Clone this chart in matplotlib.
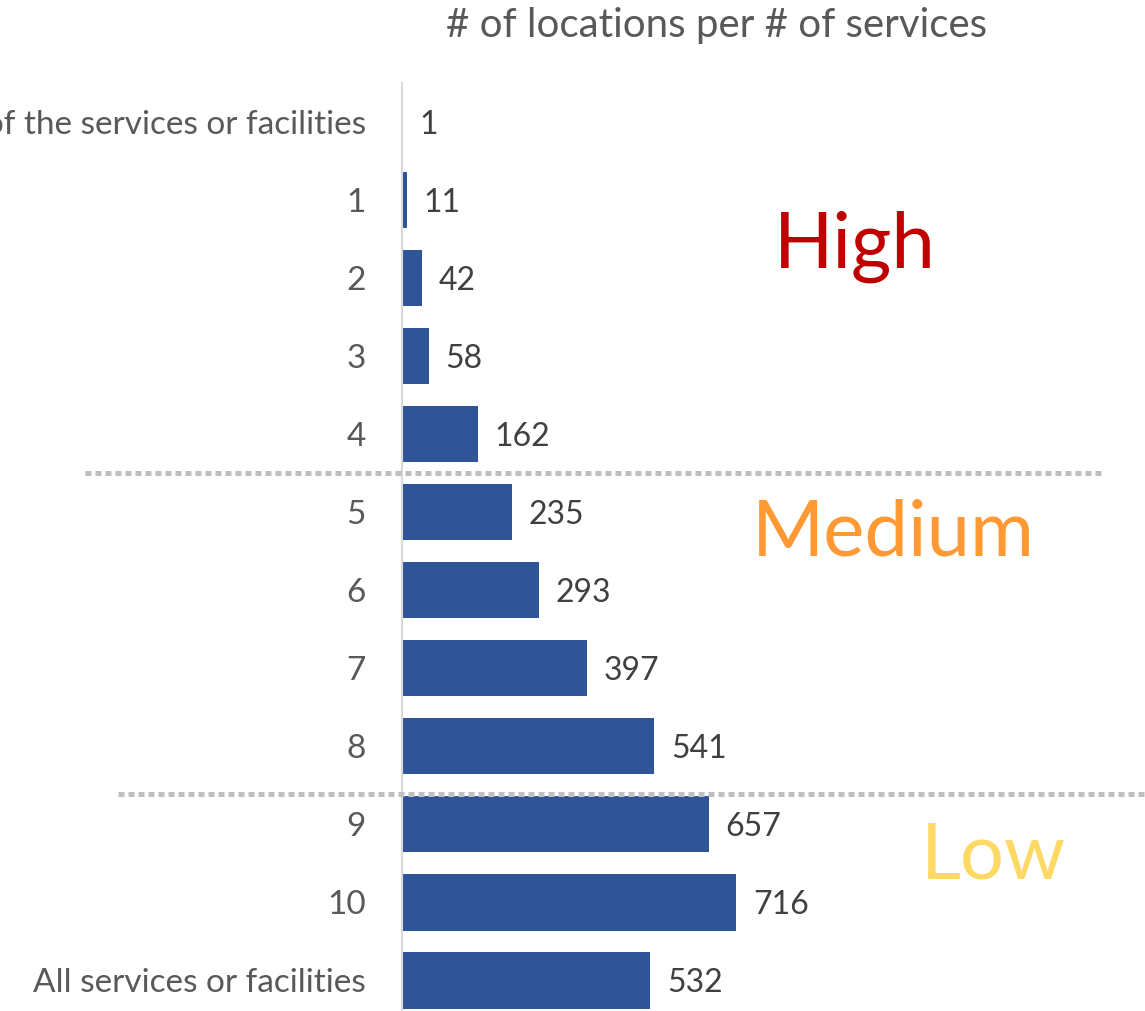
import matplotlib
matplotlib.use("Agg")
import matplotlib.pyplot as plt

categories = ["None of the services or facilities", "1", "2", "3", "4", "5", "6",
              "7", "8", "9", "10", "All services or facilities"]
locations = [1, 11, 42, 58, 162, 235, 293, 397, 541, 657, 716, 532]

title = "# of locations per # of services"
bands = ["High", "Medium", "Low"]
band_colors = ["#C00000", "#FF9933", "#FFD966"]
band_pos = [(971, 1.6), (1052, 5.28), (1267, 9.42)]
separators = [(4.5, -0.453, 1.004), (8.62, -0.406, 1.07)]

fig = plt.figure(figsize=(11.45, 10.11), dpi=100)
ax = fig.add_axes([402 / 1145, 0, 700 / 1145, 928 / 1011])

y = list(range(len(categories)))
ax.barh(y, locations, height=0.73, color="#2F5597", zorder=2)
ax.set_xlim(0, 1500)
ax.set_ylim(11.397, -0.5)

ax.set_yticks(y)
ax.set_yticklabels(categories, fontsize=24, color="#595959", family="Lato",
                   va="center_baseline")
ax.tick_params(axis="y", length=0, pad=26)
ax.set_xticks([])
for s in ["top", "right", "bottom"]:
    ax.spines[s].set_visible(False)
ax.spines["left"].set_color("#D9D9D9")
ax.spines["left"].set_linewidth(1.5)

for yi, v in zip(y, locations):
    ax.annotate(str(v), (v, yi), xytext=(12, 0), textcoords="offset points",
                va="center_baseline", ha="left", fontsize=23, color="#404040",
                family="Lato")

for yy, x0, x1 in separators:
    ax.axhline(yy, x0, x1, color="#BFBFBF", lw=3.6, ls=(0, (1.2, 0.8)),
               clip_on=False, zorder=3)

for name, c, (bx, by) in zip(bands, band_colors, band_pos):
    ax.text(bx, by, name, color=c, fontsize=56, family="Lato",
            ha="center", va="center")

fig.text(717 / 1145, 1 - 26 / 1011, title, ha="center", va="center",
         fontsize=29, color="#595959", family="Lato")

fig.savefig("out.png", dpi=100)
